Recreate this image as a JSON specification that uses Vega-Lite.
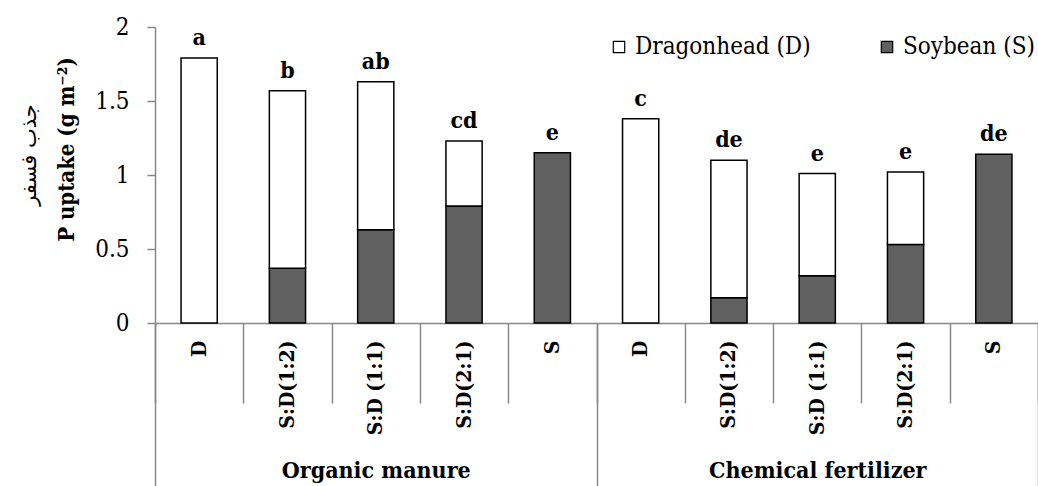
{
  "$schema": "https://vega.github.io/schema/vega-lite/v6.json",
  "width": 883,
  "height": 296,
  "autosize": {"type": "none"},
  "padding": {"left": 155, "top": 27, "right": 0, "bottom": 163},
  "background": "white",
  "config": {
    "view": {"stroke": null},
    "font": "DejaVu Serif Condensed, DejaVu Serif",
    "axis": {"domainColor": "#888888", "tickColor": "#888888", "labelColor": "black", "titleColor": "black", "grid": false}
  },
  "title": {"text": "جذب فسفر", "orient": "left", "anchor": "middle", "font": "DejaVu Sans", "fontSize": 21, "fontWeight": "normal", "color": "black", "offset": 16, "dx": 20},
  "datasets": {
    "seg": [
      {"group": "Organic manure", "key": "OM|D", "species": "Dragonhead (D)", "value": 1.79},
      {"group": "Organic manure", "key": "OM|S:D(1:2)", "species": "Soybean (S)", "value": 0.37},
      {"group": "Organic manure", "key": "OM|S:D(1:2)", "species": "Dragonhead (D)", "value": 1.20},
      {"group": "Organic manure", "key": "OM|S:D (1:1)", "species": "Soybean (S)", "value": 0.63},
      {"group": "Organic manure", "key": "OM|S:D (1:1)", "species": "Dragonhead (D)", "value": 1.00},
      {"group": "Organic manure", "key": "OM|S:D(2:1)", "species": "Soybean (S)", "value": 0.79},
      {"group": "Organic manure", "key": "OM|S:D(2:1)", "species": "Dragonhead (D)", "value": 0.44},
      {"group": "Organic manure", "key": "OM|S", "species": "Soybean (S)", "value": 1.15},
      {"group": "Chemical fertilizer", "key": "CF|D", "species": "Dragonhead (D)", "value": 1.38},
      {"group": "Chemical fertilizer", "key": "CF|S:D(1:2)", "species": "Soybean (S)", "value": 0.17},
      {"group": "Chemical fertilizer", "key": "CF|S:D(1:2)", "species": "Dragonhead (D)", "value": 0.93},
      {"group": "Chemical fertilizer", "key": "CF|S:D (1:1)", "species": "Soybean (S)", "value": 0.32},
      {"group": "Chemical fertilizer", "key": "CF|S:D (1:1)", "species": "Dragonhead (D)", "value": 0.69},
      {"group": "Chemical fertilizer", "key": "CF|S:D(2:1)", "species": "Soybean (S)", "value": 0.53},
      {"group": "Chemical fertilizer", "key": "CF|S:D(2:1)", "species": "Dragonhead (D)", "value": 0.49},
      {"group": "Chemical fertilizer", "key": "CF|S", "species": "Soybean (S)", "value": 1.14}
    ],
    "lab": [
      {"group": "Organic manure", "key": "OM|D", "total": 1.79, "letter": "a"},
      {"group": "Organic manure", "key": "OM|S:D(1:2)", "total": 1.57, "letter": "b"},
      {"group": "Organic manure", "key": "OM|S:D (1:1)", "total": 1.63, "letter": "ab"},
      {"group": "Organic manure", "key": "OM|S:D(2:1)", "total": 1.23, "letter": "cd"},
      {"group": "Organic manure", "key": "OM|S", "total": 1.15, "letter": "e"},
      {"group": "Chemical fertilizer", "key": "CF|D", "total": 1.38, "letter": "c"},
      {"group": "Chemical fertilizer", "key": "CF|S:D(1:2)", "total": 1.10, "letter": "de"},
      {"group": "Chemical fertilizer", "key": "CF|S:D (1:1)", "total": 1.01, "letter": "e"},
      {"group": "Chemical fertilizer", "key": "CF|S:D(2:1)", "total": 1.02, "letter": "e"},
      {"group": "Chemical fertilizer", "key": "CF|S", "total": 1.14, "letter": "de"}
    ]
  },
  "layer": [
    {
      "encoding": {
        "x": {
          "field": "key", "type": "nominal",
          "scale": {"domain": ["OM|D", "OM|S:D(1:2)", "OM|S:D (1:1)", "OM|S:D(2:1)", "OM|S", "CF|D", "CF|S:D(1:2)", "CF|S:D (1:1)", "CF|S:D(2:1)", "CF|S"], "paddingInner": 0, "paddingOuter": 0},
          "axis": {
            "orient": "bottom", "title": null, "tickBand": "extent", "tickSize": 80, "tickWidth": 1.5, "domainWidth": 1.5,
            "labelAngle": -90, "labelAlign": "right", "labelBaseline": "middle", "labelPadding": -63,
            "labelFont": "DejaVu Serif Condensed, DejaVu Serif", "labelFontWeight": "bold", "labelFontSize": 21, "labelLimit": 300,
            "labelExpr": "split(datum.label, '|')[1]"
          }
        }
      },
      "layer": [
        {
          "data": {"name": "seg"},
          "mark": {"type": "bar", "width": {"band": 0.41}, "stroke": "black", "strokeWidth": 1.5},
          "encoding": {
            "y": {
              "field": "value", "type": "quantitative", "stack": "zero",
              "scale": {"domain": [0, 2]},
              "axis": {
                "values": [0, 0.5, 1, 1.5, 2], "format": "~g", "title": "P uptake (g m⁻²)",
                "tickSize": 8, "tickWidth": 1.5, "domainWidth": 1.5, "labelPadding": 18,
                "labelFont": "DejaVu Serif Condensed, DejaVu Serif", "labelFontSize": 24, "labelFontWeight": "normal",
                "titleFont": "DejaVu Serif Condensed, DejaVu Serif", "titleFontSize": 22, "titleFontWeight": "bold", "titlePadding": 16,
                "titleY": 122
              }
            },
            "color": {
              "field": "species", "type": "nominal",
              "scale": {"domain": ["Dragonhead (D)", "Soybean (S)"], "range": ["white", "#606060"]},
              "legend": {
                "orient": "none", "legendX": 452, "legendY": 8, "direction": "horizontal", "title": null,
                "symbolType": "square", "symbolSize": 130, "symbolStrokeColor": "black", "symbolStrokeWidth": 1.2,
                "symbolOpacity": 1,
                "labelFont": "DejaVu Serif Condensed, DejaVu Serif", "labelFontSize": 24, "labelColor": "black", "labelOffset": 4,
                "labelLimit": 400, "columnPadding": 64
              }
            },
            "order": {"field": "species", "sort": "descending"}
          }
        },
        {
          "data": {"name": "lab"},
          "mark": {"type": "text", "baseline": "bottom", "dy": -8, "font": "DejaVu Serif Condensed, DejaVu Serif", "fontWeight": "bold", "fontSize": 23, "color": "black"},
          "encoding": {
            "y": {"field": "total", "type": "quantitative"},
            "text": {"field": "letter"}
          }
        }
      ]
    },
    {
      "data": {"name": "lab"},
      "mark": {"type": "point", "opacity": 0},
      "encoding": {
        "x": {
          "field": "group", "type": "nominal",
          "scale": {"domain": ["Organic manure", "Chemical fertilizer"], "paddingInner": 0, "paddingOuter": 0},
          "axis": {
            "orient": "bottom", "title": null, "domain": false, "tickBand": "extent", "tickSize": 163, "tickWidth": 1.5,
            "labelAngle": 0, "labelBaseline": "top", "labelPadding": -27, "labelLimit": 500,
            "labelFont": "DejaVu Serif Condensed, DejaVu Serif", "labelFontWeight": "bold", "labelFontSize": 23
          }
        },
        "y": {"field": "total", "type": "quantitative"}
      }
    }
  ],
  "resolve": {"scale": {"x": "independent"}, "axis": {"x": "independent"}}
}
